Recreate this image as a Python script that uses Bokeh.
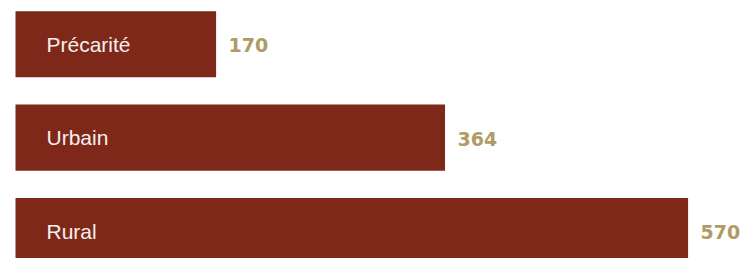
from bokeh.plotting import figure
from bokeh.models import Range1d, ColumnDataSource
from bokeh.core.properties import value
from bokeh.embed import file_html
from bokeh.resources import INLINE

categories = ["Précarité", "Urbain", "Rural"]
values = [170, 364, 570]
value_labels = ["170", "364", "570"]

pos = list(range(len(categories)))
src = ColumnDataSource(dict(cat=categories, val=values, lab=value_labels, y=pos,
                            zero=[0] * len(pos)))

p = figure(width=742, height=258, output_backend="svg", toolbar_location=None,
           x_range=Range1d(-12.71, 616.1), y_range=Range1d(2.294, -0.468),
           min_border=0)
p.axis.visible = False
p.grid.visible = False
p.outline_line_color = None
p.background_fill_color = "white"
p.border_fill_color = "white"

p.hbar(y="y", left=0, right="val", height=0.707, source=src,
       fill_color="#7e2819", line_color=None)

p.text(x="zero", y="y", text="cat", source=src, x_offset=31,
       text_font=value("Liberation Sans"), text_font_size="21px",
       text_color="#f7efec", text_baseline="middle", text_align="left")

p.text(x="val", y="y", text="lab", source=src, x_offset=12.5, y_offset=1,
       text_font=value("DejaVu Sans"), text_font_style="bold", text_font_size="19px",
       text_color="#b09b66", text_baseline="middle", text_align="left")

open("out.html", "w").write(file_html(p, INLINE))
